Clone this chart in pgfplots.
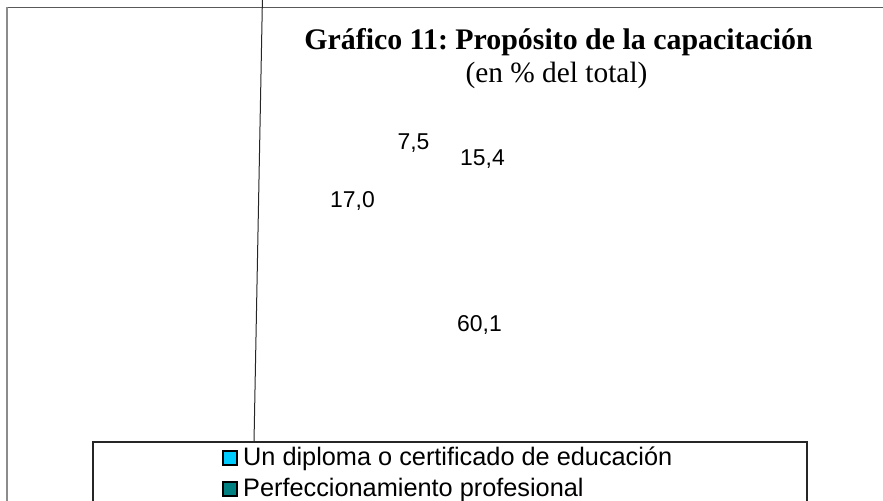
\documentclass[border=0pt]{standalone}
\usepackage{pgfplots}
\pgfplotsset{compat=1.18}
\usepackage{fontspec}
\setmainfont{Liberation Serif}
\newfontfamily\arial{Liberation Sans}
\definecolor{skyb}{RGB}{0,204,255}
\definecolor{tealc}{RGB}{0,128,128}
\frenchspacing
\begin{document}
\begin{tikzpicture}
\begin{axis}[name=ax, scale only axis, width=883bp, height=501bp,
  xmin=0, xmax=883, ymin=0, ymax=501, y dir=reverse, hide axis, clip=false,
  legend style={at={(axis cs:222,443)}, anchor=north west, draw=none, fill=none,
    font=\arial\fontsize{25.4}{31}\selectfont, cells={anchor=west}, inner sep=0pt,
    row sep=0pt, column sep=5bp,
    nodes={inner sep=0pt, text height=22bp, text depth=9bp}},
  legend image code/.code={\draw[#1, line width=1.8bp] (0.9bp,-6.6bp) rectangle (15.1bp,7.6bp);},
]
% frame lines
\draw[black!65, line width=1.6bp] (axis cs:7,7.5) -- (axis cs:895,7.5);
\draw[black!45, line width=2bp] (axis cs:7,7) -- (axis cs:7,515);
\draw[black!85, line width=1bp] (axis cs:262.5,-5) -- (axis cs:254,442);
\draw[black!85, line width=1.3bp] (axis cs:93,515) -- (axis cs:93,442) -- (axis cs:807,442) -- (axis cs:807,515);
% title
\node[font=\bfseries\fontsize{30}{36}\selectfont, anchor=base, inner sep=0pt] at (axis cs:558.5,50) {Gráfico 11: Propósito de la capacitación};
\node[font=\fontsize{29.5}{35}\selectfont, anchor=base, inner sep=0pt] at (axis cs:556.5,83) {(en \% del total)};
% data labels
\addplot[draw=none, forget plot, nodes near coords, point meta=explicit symbolic,
  nodes near coords style={font=\arial\fontsize{23}{27}\selectfont, anchor=center, inner sep=0pt, text height=16.5bp, text depth=0pt}]
  table[meta=label] {
x y label
413.5 141 7,5
482.5 157 15,4
352.5 199 17,0
479.5 323 60,1
};
\addlegendimage{fill=skyb, draw=black}
\addlegendentry{Un diploma o certificado de educación}
\addlegendimage{fill=tealc, draw=black}
\addlegendentry{Perfeccionamiento profesional}
\end{axis}
\pgfresetboundingbox
\useasboundingbox (ax.south west) rectangle (ax.north east);
\end{tikzpicture}
\end{document}
